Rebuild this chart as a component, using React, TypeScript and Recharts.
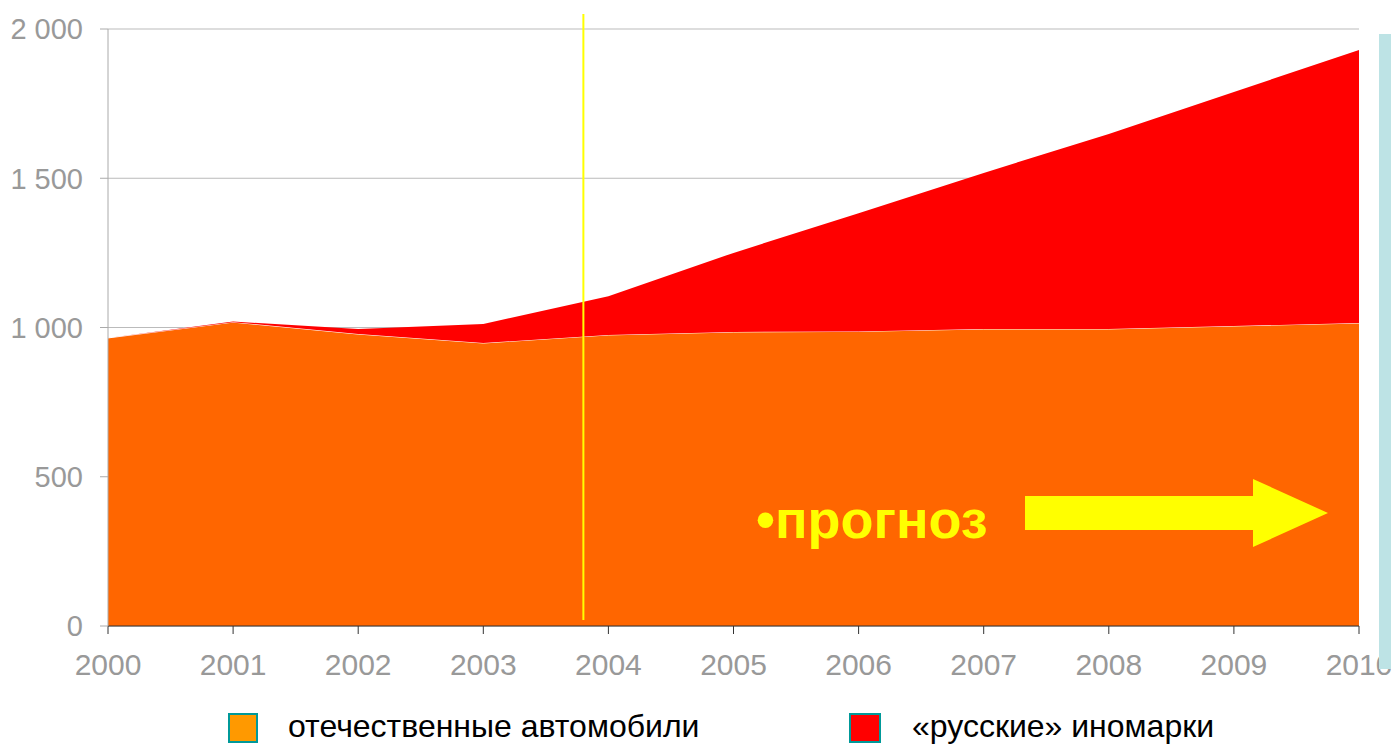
import { Area, AreaChart, CartesianGrid, ReferenceLine, XAxis, YAxis } from "recharts";

const years = [2000, 2001, 2002, 2003, 2004, 2005, 2006, 2007, 2008, 2009, 2010];
const domestic = [965, 1018, 978, 948, 975, 985, 987, 995, 995, 1005, 1015];
const foreignRu = [0, 2, 17, 64, 130, 265, 396, 523, 653, 784, 915];
const yTicks = [0, 500, 1000, 1500, 2000];
const seriesNames = ["отечественные автомобили", "«русские» иномарки"];
const forecastStart = 2003.8;

const data = years.map((y, i) => ({ year: y, domestic: domestic[i], foreignRu: foreignRu[i] }));

const fmt = (v: number) => v.toLocaleString("ru-RU").replace(/\u00a0|\u202f/g, " ");

const font = "'Liberation Sans', Arial, sans-serif";

export default function App() {
  return (
    <div style={{ position: "absolute", left: 0, top: 0, width: 1391, height: 747, background: "#fff", fontFamily: font }}>
      <AreaChart width={1391} height={747} data={data} margin={{ top: 29, right: 32, bottom: 0, left: 0 }}>
        <CartesianGrid vertical={false} stroke="#bbbbbb" />
        <XAxis
          dataKey="year"
          type="number"
          domain={[2000, 2010]}
          ticks={years}
          height={121}
          tickSize={8}
          tickMargin={20}
          stroke="#333"
          tick={{ fill: "#999", fontSize: 30, fontFamily: font }}
        />
        <YAxis
          domain={[0, 2000]}
          ticks={yTicks}
          width={108}
          tickSize={8}
          tickMargin={17}
          stroke="#aaa"
          tickFormatter={fmt}
          tick={{ fill: "#999", fontSize: 29, fontFamily: font }}
        />
        <Area
          type="linear"
          dataKey="domestic"
          stackId="a"
          fill="#FF6600"
          fillOpacity={1}
          stroke="#fff"
          strokeWidth={1}
          isAnimationActive={false}
        />
        <Area
          type="linear"
          dataKey="foreignRu"
          stackId="a"
          fill="#FF0000"
          fillOpacity={1}
          stroke="none"
          isAnimationActive={false}
        />
        <ReferenceLine
          segment={[{ x: forecastStart, y: 2050 }, { x: forecastStart, y: 20 }]}
          stroke="#FFFF00"
          strokeWidth={2}
          ifOverflow="visible"
        />
      </AreaChart>
      <svg width={1391} height={747} style={{ position: "absolute", left: 0, top: 0, pointerEvents: "none" }}>
        <text x={756} y={538} fill="#FFFF00" fontSize={54} fontWeight="bold" fontFamily={font}>
          •прогноз
        </text>
        <polygon points="1025,496 1253,496 1253,479 1328,513 1253,547 1253,530 1025,530" fill="#FFFF00" />
        <rect x={1379} y={34} width={12} height={635} fill="#BDE3E5" />
      </svg>
      <div style={{ position: "absolute", left: 228, top: 713, width: 30, height: 30, boxSizing: "border-box", background: "#FF9900", border: "2px solid #009999" }} />
      <div style={{ position: "absolute", left: 288, top: 708, fontSize: 32, color: "#000", whiteSpace: "nowrap" }}>{seriesNames[0]}</div>
      <div style={{ position: "absolute", left: 849, top: 713, width: 32, height: 30, boxSizing: "border-box", background: "#FF0000", border: "2px solid #009999" }} />
      <div style={{ position: "absolute", left: 912, top: 708, fontSize: 32, color: "#000", whiteSpace: "nowrap" }}>{seriesNames[1]}</div>
    </div>
  );
}
